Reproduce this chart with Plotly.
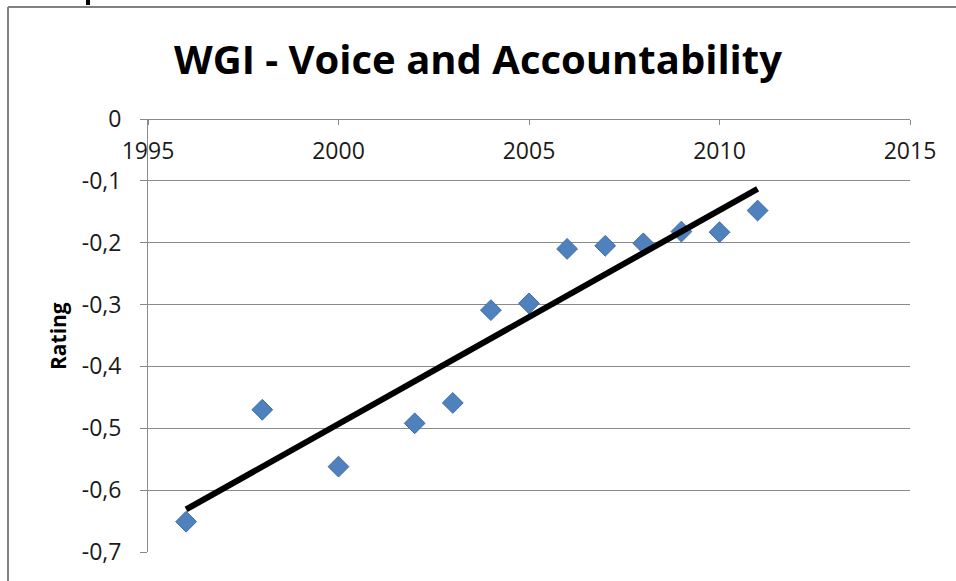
import numpy as np
import plotly.graph_objects as go

# ---- data ----
years = [1996, 1998, 2000, 2002, 2003, 2004, 2005, 2006, 2007, 2008, 2009, 2010, 2011]
ratings = [-0.651, -0.470, -0.562, -0.492, -0.459, -0.309, -0.298, -0.210, -0.205, -0.201, -0.182, -0.183, -0.148]

x_tickvals = [1995, 2000, 2005, 2010, 2015]
x_ticktext = ["1995", "2000", "2005", "2010", "2015"]
y_tickvals = [0, -0.1, -0.2, -0.3, -0.4, -0.5, -0.6, -0.7]
y_ticktext = ["0", "-0,1", "-0,2", "-0,3", "-0,4", "-0,5", "-0,6", "-0,7"]

title_text = "WGI - Voice and Accountability"
y_title = "Rating"

# linear trendline computed from the data
slope, intercept = np.polyfit(years, ratings, 1)
trend_x = [years[0], years[-1]]
trend_y = [slope * v + intercept for v in trend_x]

FONT = "Open Sans"
GRID = "#8a8a8a"
TXT = "#1a1a1a"

fig = go.Figure()
fig.add_trace(go.Scatter(
    x=years, y=ratings, mode="markers",
    marker=dict(symbol="diamond", size=16, color="#4F81BD",
                line=dict(color="#3D6CA8", width=1)),
    showlegend=False,
))
fig.add_trace(go.Scatter(
    x=trend_x, y=trend_y, mode="lines",
    line=dict(color="black", width=6),
    hoverinfo="skip", showlegend=False,
))

fig.update_layout(
    width=956, height=581,
    margin=dict(l=148, r=46, t=119, b=29),
    paper_bgcolor="white", plot_bgcolor="white",
    font=dict(family=FONT, color=TXT),
    title=dict(text=title_text, x=0.5, xanchor="center",
               y=1 - 60 / 581, yanchor="middle", yref="container",
               font=dict(family=FONT, size=40, color="black", weight="bold")),
    xaxis=dict(
        range=[1995, 2015], side="bottom", anchor="free", position=1,
        tickvals=x_tickvals, ticktext=x_ticktext,
        ticks="outside", ticklen=5, tickcolor=GRID,
        ticklabelstandoff=6,
        showline=True, linecolor=GRID, linewidth=1,
        showgrid=False, zeroline=False,
        tickfont=dict(family=FONT, size=23, color=TXT),
    ),
    yaxis=dict(
        range=[-0.7, 0],
        tickvals=y_tickvals, ticktext=y_ticktext,
        ticks="outside", ticklen=7, tickcolor=GRID,
        ticklabelstandoff=14,
        showline=True, linecolor=GRID, linewidth=1,
        showgrid=True, gridcolor=GRID, gridwidth=1,
        zeroline=False,
        tickfont=dict(family=FONT, size=23, color=TXT),
    ),
    annotations=[dict(
        text=y_title, textangle=-90, showarrow=False,
        xref="paper", yref="paper",
        x=(58 - 148) / 762, y=(552 - 336) / 433,
        xanchor="center", yanchor="middle",
        font=dict(family=FONT, size=21, color="black", weight="bold"),
    )],
    shapes=[
        dict(type="line", xref="paper", yref="paper",
             x0=(8 - 148) / 762, x1=(8 - 148) / 762,
             y0=(552 - 600) / 433, y1=(552 - 7) / 433,
             line=dict(color="#808080", width=2)),
        dict(type="line", xref="paper", yref="paper",
             x0=(8 - 148) / 762, x1=(970 - 148) / 762,
             y0=(552 - 7) / 433, y1=(552 - 7) / 433,
             line=dict(color="#808080", width=2)),
        dict(type="line", xref="paper", yref="paper",
             x0=(88 - 148) / 762, x1=(88 - 148) / 762,
             y0=(552 + 0) / 433 + 0.02, y1=(552 - 5) / 433,
             line=dict(color="black", width=4)),
    ],
)

fig.write_html(
    "out.html",
    config={"displayModeBar": False},
    post_script="document.body.style.margin='0';document.body.style.overflow='hidden';",
)
